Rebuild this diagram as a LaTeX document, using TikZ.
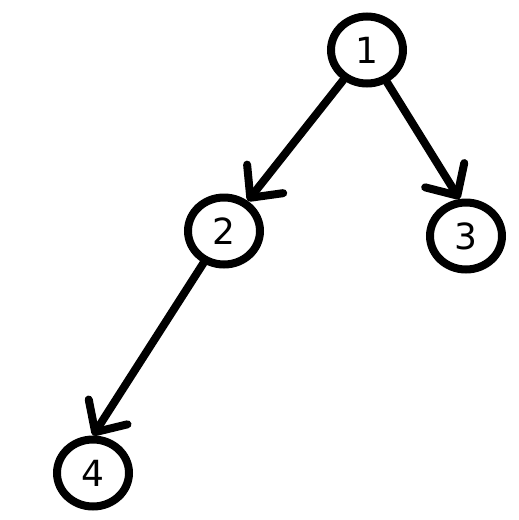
\documentclass[tikz,border=0pt]{standalone}
\usepackage{fontspec}
\setmainfont{DejaVu Sans}
\usetikzlibrary{shapes.geometric,arrows.meta}
\begin{document}
\begin{tikzpicture}[x=1pt,y=-1pt,
  vert/.style={ellipse,draw=black,line width=8pt,minimum width=72pt,minimum height=67pt,inner sep=0pt,font=\fontsize{36}{36}\selectfont},
  edge/.style={line width=8pt,line cap=round,-{Straight Barb[length=24pt,width=46pt,line cap=round,line join=round]}}]
\useasboundingbox (0,0) rectangle (519,520);
\node[vert] (n1) at (367,50) {1};
\node[vert] (n2) at (224,231) {2};
\node[vert] (n3) at (466,236) {3};
\node[vert] (n4) at (93,473) {4};
\draw[edge] (n1) -- (n2);
\draw[edge] (n1) -- (n3.100);
\draw[edge] (n2) -- (n4.north);
\end{tikzpicture}
\end{document}
